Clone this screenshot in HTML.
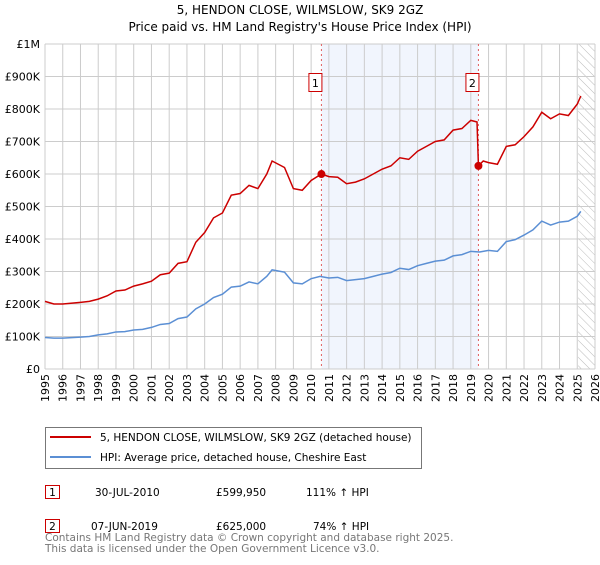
<!DOCTYPE html>
<html><head><meta charset="utf-8"><style>
body{margin:0;background:#fff;font-family:"Liberation Sans","DejaVu Sans",sans-serif;}
svg text{font-family:"DejaVu Sans","Liberation Sans",sans-serif;}
</style></head><body>
<svg id="c" width="600" height="560" xmlns="http://www.w3.org/2000/svg">
<defs><pattern id="hatch" width="6" height="6" patternUnits="userSpaceOnUse" patternTransform="rotate(-45)"><line x1="0" y1="0" x2="0" y2="6" stroke="#bbb" stroke-width="1"/></pattern></defs>
<text x="300" y="14" text-anchor="middle" font-size="12">5, HENDON CLOSE, WILMSLOW, SK9 2GZ</text>
<text x="300" y="31" text-anchor="middle" font-size="12">Price paid vs. HM Land Registry's House Price Index (HPI)</text>
<g id="plot"></g>
<g>
<rect x="45.5" y="427.5" width="376" height="41" fill="#fff" stroke="#777"/>
<line x1="50" y1="437" x2="91" y2="437" stroke="#cc0000" stroke-width="2"/>
<text x="100" y="441" font-size="10.5">5, HENDON CLOSE, WILMSLOW, SK9 2GZ (detached house)</text>
<line x1="50" y1="457" x2="91" y2="457" stroke="#5b8fd4" stroke-width="2"/>
<text x="100" y="461" font-size="10.5">HPI: Average price, detached house, Cheshire East</text>
</g>
<g font-size="10.5">
<rect x="45.5" y="485.5" width="14" height="13" fill="#fff" stroke="#cc0000"/><text x="52.5" y="496" text-anchor="middle">1</text>
<text x="95" y="496">30-JUL-2010</text><text x="216" y="496">£599,950</text><text x="306" y="496">111% ↑ HPI</text>
<rect x="45.5" y="519.5" width="14" height="13" fill="#fff" stroke="#cc0000"/><text x="52.5" y="530" text-anchor="middle">2</text>
<text x="91" y="530">07-JUN-2019</text><text x="216" y="530">£625,000</text><text x="313" y="530">74% ↑ HPI</text>
</g>
<text x="45" y="541" font-size="10.5" fill="#777">Contains HM Land Registry data © Crown copyright and database right 2025.</text>
<text x="45" y="552" font-size="10.5" fill="#777">This data is licensed under the Open Government Licence v3.0.</text>
</svg>
<script>
const hpiDates=[1995,1995.5,1996,1997,1997.5,1998,1998.5,1999,1999.5,2000,2000.5,2001,2001.5,2002,2002.5,2003,2003.5,2004,2004.5,2005,2005.5,2006,2006.5,2007,2007.5,2007.8,2008.5,2009,2009.5,2010,2010.5,2011,2011.5,2012,2012.5,2013,2013.5,2014,2014.5,2015,2015.5,2016,2016.5,2017,2017.5,2018,2018.5,2019,2019.5,2020,2020.5,2021,2021.5,2022,2022.5,2023,2023.5,2024,2024.5,2025,2025.2];
const hpiValues=[97,95,95,98,100,105,108,114,115,120,122,128,137,140,155,160,185,200,220,230,252,255,268,262,285,305,298,265,262,278,285,280,282,272,275,278,285,292,297,310,306,318,325,332,335,348,352,362,360,365,362,392,398,412,428,455,443,452,455,470,485];
const priceDates=[1995,1995.5,1996,1997,1997.5,1998,1998.5,1999,1999.5,2000,2000.5,2001,2001.5,2002,2002.5,2003,2003.5,2004,2004.5,2005,2005.5,2006,2006.5,2007,2007.5,2007.8,2008.5,2009,2009.5,2010,2010.58,2011,2011.5,2012,2012.5,2013,2013.5,2014,2014.5,2015,2015.5,2016,2016.5,2017,2017.5,2018,2018.5,2019,2019.35,2019.43,2019.7,2020,2020.5,2021,2021.5,2022,2022.5,2023,2023.5,2024,2024.5,2025,2025.2];
const priceValues=[208,200,200,205,208,215,225,240,243,255,262,270,290,295,325,330,390,420,465,480,535,540,565,555,600,640,620,555,550,580,600,592,590,570,575,585,600,615,625,650,645,670,685,700,705,735,740,765,760,625,640,635,630,685,690,715,745,790,770,785,780,815,840];
const saleDates=[2010.58,2019.43];
const saleValues=[599.95,625];
const yTicks=[0,100,200,300,400,500,600,700,800,900,1000];
const yLabels=["£0","£100K","£200K","£300K","£400K","£500K","£600K","£700K","£800K","£900K","£1M"];
const xYears=[1995,1996,1997,1998,1999,2000,2001,2002,2003,2004,2005,2006,2007,2008,2009,2010,2011,2012,2013,2014,2015,2016,2017,2018,2019,2020,2021,2022,2023,2024,2025,2026];
const X0=45,X1=595,Y0=369,Y1=44;
const xs=d=>X0+(d-1995)/31*(X1-X0);
const ys=v=>Y0-v/1000*(Y0-Y1);
const NS="http://www.w3.org/2000/svg",g=document.getElementById('plot');
function mk(t,a){const e=document.createElementNS(NS,t);for(const k in a)e.setAttribute(k,a[k]);g.appendChild(e);return e;}
let e;
e=mk('rect',{x:xs(saleDates[0]),y:Y1,width:xs(saleDates[1])-xs(saleDates[0]),height:Y0-Y1,fill:'#eef3fc',opacity:0.8});


e=mk('rect',{x:xs(2025.05),y:Y1,width:X1-xs(2025.05),height:Y0-Y1,fill:'url(#hatch)'});


xYears.forEach(y=>{e=mk('line',{x1:xs(y),x2:xs(y),y1:Y1,y2:Y0,stroke:'#ccc'});


e=mk('text',{transform:`translate(${xs(y)+4},${Y0+5}) rotate(-90)`,'text-anchor':'end','font-size':'11'});e.textContent=y;

});
yTicks.forEach((v,i)=>{e=mk('line',{x1:X0,x2:X1,y1:ys(v),y2:ys(v),stroke:'#ccc'});


e=mk('text',{x:X0-5,y:ys(v)+4,'text-anchor':'end','font-size':'11'});e.textContent=yLabels[i];

});
saleDates.forEach((d,i)=>{e=mk('line',{x1:xs(d),x2:xs(d),y1:Y1,y2:Y0,stroke:'#e06060','stroke-dasharray':'2,3'});


e=mk('rect',{x:xs(d)-12.5,y:73.5,width:13,height:18,fill:'#fff',stroke:'#cc0000'});


e=mk('text',{x:xs(d)-6,y:87,'text-anchor':'middle','font-size':'11'});e.textContent=String(i+1);

});
e=mk('polyline',{points:hpiDates.map((d,i)=>xs(d)+','+ys(hpiValues[i])).join(' '),fill:'none',stroke:'#5b8fd4','stroke-width':1.5});


e=mk('polyline',{points:priceDates.map((d,i)=>xs(d)+','+ys(priceValues[i])).join(' '),fill:'none',stroke:'#cc0000','stroke-width':1.5});


saleDates.forEach((d,i)=>{e=mk('circle',{cx:xs(d),cy:ys(saleValues[i]),r:4,fill:'#cc0000'});

});
</script>
</body></html>
